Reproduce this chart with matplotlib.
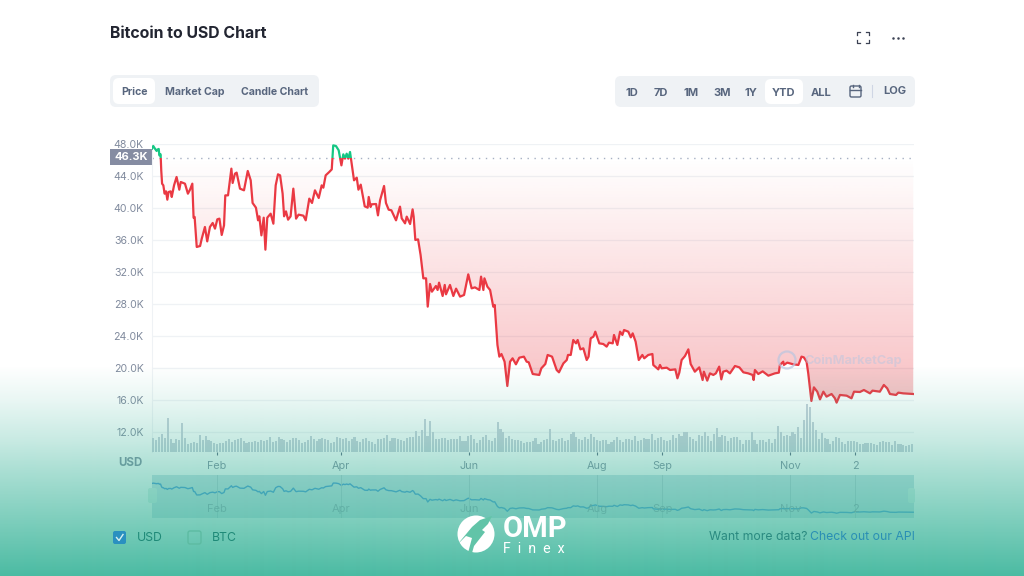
import numpy as np
import matplotlib
matplotlib.use("Agg")
import matplotlib.pyplot as plt
from matplotlib.patches import FancyBboxPatch, Rectangle, Circle, Polygon
from matplotlib.colors import to_rgb

# days since 1 Jan, price in thousand USD
days = [0, 0.6, 1.4, 2.2, 2.5, 3.2, 3.5, 4.1, 4.4, 4.8, 5.4, 6.0, 6.7, 7.3, 7.9, 8.9, 9.4, 10.5, 11.7, 13.0,
        13.7, 15.7, 17.1, 18.1, 19.2, 19.8, 20.3, 21.3, 22.9, 23.7, 25.2, 26.3, 27.6, 28.9, 30.0, 31.1, 32.1, 33.2, 34.3, 34.9,
        36.2, 37.8, 38.4, 39.5, 40.3, 41.9, 43.8, 45.6, 47.0, 47.9, 49.5, 50.5, 51.1, 52.1, 53.2, 54.0, 54.9, 56.5, 57.8, 58.9,
        60.0, 61.0, 62.2, 62.9, 63.8, 64.8, 66.0, 67.3, 68.6, 69.8, 72.1, 73.2, 74.9, 76.2, 77.6, 79.4, 80.8, 81.6, 82.7, 84.4,
        85.6, 86.3, 87.6, 88.9, 90.2, 91.1, 91.9, 92.7, 93.5, 94.3, 95.4, 96.2, 97.5, 98.3, 99.4, 101.3, 102.7, 103.2, 104.1, 104.6,
        106.7, 107.6, 108.6, 110.5, 111.4, 112.7, 114.0, 116.2, 118.1, 118.9, 120.5, 121.3, 122.9, 124.1, 124.6, 125.4, 126.7, 127.9, 129.2, 130.5,
        131.3, 132.4, 133.3, 135.2, 136.0, 136.7, 138.4, 139.4, 140.0, 141.9, 143.5, 144.8, 146.7, 148.6, 150.6, 152.2, 153.8, 155.9, 156.7, 157.8,
        158.3, 159.7, 161.0, 162.5, 163.2, 164.5, 165.4, 166.4, 167.9, 169.2, 170.5, 171.7, 173.3, 174.9, 177.1, 178.4, 179.4, 181.3, 184.4, 185.4,
        187.3, 188.4, 190.5, 192.7, 193.8, 195.9, 197.5, 198.1, 199.4, 200.6, 201.9, 202.7, 204.0, 205.4, 207.0, 207.9, 208.9, 210.2, 211.1, 213.0,
        214.9, 216.5, 217.6, 219.4, 220.0, 221.6, 222.9, 224.0, 224.8, 226.8, 228.0, 228.9, 230.3, 231.8, 233.5, 234.4, 236.3, 238.3, 238.7, 241.1,
        241.9, 242.7, 245.1, 246.7, 249.2, 250.2, 251.1, 252.2, 253.8, 255.4, 256.5, 258.5, 260.6, 262.2, 262.8, 264.4, 265.7, 267.3, 268.5, 270.1,
        271.1, 272.0, 273.6, 275.2, 277.6, 279.7, 281.6, 283.9, 286.0, 286.5, 287.1, 288.7, 290.8, 293.5, 296.6, 298.5, 299.0, 300.6, 300.9, 302.5,
        305.4, 307.8, 309.3, 310.4, 311.7, 312.5, 314.0, 315.2, 316.8, 318.1, 319.7, 321.2, 323.6, 325.2, 326.0, 327.6, 330.8, 333.1, 334.3, 337.1,
        339.0, 341.9, 343.1, 346.6, 348.5, 350.1, 351.4, 354.3, 355.4, 357.7, 362.5]
prices = [47.42, 47.75, 47.42, 47.13, 47.29, 47.38, 46.58, 46.71, 44.71, 43.04, 42.83, 41.79, 42.08, 41.04, 42.0, 42.08, 41.38, 42.83, 43.88, 42.29,
          43.25, 43.04, 41.79, 42.29, 43.04, 38.79, 38.88, 35.13, 35.25, 36.17, 37.63, 35.83, 37.63, 38.13, 37.42, 38.58, 38.67, 36.63, 37.83, 41.58,
          41.58, 44.92, 43.13, 44.29, 44.42, 42.42, 42.21, 44.63, 43.46, 40.63, 40.04, 38.46, 38.96, 36.58, 38.79, 34.79, 38.79, 39.29, 38.04, 42.83,
          44.21, 44.08, 41.79, 38.96, 39.58, 38.54, 38.96, 42.42, 38.67, 39.17, 39.04, 38.46, 41.17, 40.63, 42.21, 41.25, 42.83, 42.54, 44.08, 44.5,
          44.83, 47.83, 47.75, 47.21, 45.33, 46.71, 46.17, 46.79, 46.17, 47.0, 44.92, 43.46, 43.79, 42.29, 42.92, 40.21, 40.04, 41.38, 40.13, 40.46,
          40.5, 39.08, 40.96, 42.75, 40.63, 39.79, 39.71, 38.46, 40.17, 38.71, 38.08, 38.92, 38.0, 39.83, 38.92, 36.0, 36.08, 34.13, 31.21, 31.21,
          27.67, 30.5, 29.54, 30.25, 29.75, 30.67, 29.0, 30.38, 29.21, 30.38, 29.0, 29.92, 28.92, 29.13, 31.71, 29.96, 30.08, 29.75, 31.42, 29.75,
          31.21, 30.17, 29.75, 27.67, 27.88, 22.88, 21.42, 21.75, 20.79, 17.75, 20.79, 21.21, 20.46, 21.29, 21.42, 20.79, 20.71, 19.25, 19.13, 19.96,
          20.5, 21.63, 21.42, 19.75, 19.46, 20.58, 21.0, 21.63, 21.63, 23.5, 23.08, 23.5, 22.33, 22.46, 21.0, 21.42, 23.71, 23.92, 24.54, 23.08,
          23.0, 22.67, 23.17, 23.08, 24.13, 22.88, 24.54, 24.13, 24.75, 24.54, 23.83, 24.33, 23.29, 21.0, 21.63, 21.21, 21.63, 21.75, 20.38, 19.83,
          20.38, 19.96, 20.04, 19.75, 19.83, 18.71, 19.42, 21.0, 21.5, 22.33, 20.5, 19.54, 20.08, 18.5, 19.54, 18.42, 19.33, 19.13, 19.33, 20.17,
          18.58, 19.54, 19.67, 19.33, 20.25, 20.08, 19.46, 19.33, 19.13, 18.5, 19.75, 19.25, 19.58, 19.04, 19.33, 19.42, 20.38, 20.79, 20.38, 20.67,
          20.46, 20.38, 21.42, 21.33, 20.79, 19.33, 15.88, 17.58, 17.04, 16.08, 17.04, 16.42, 16.75, 16.21, 15.67, 16.63, 16.54, 16.21, 17.04, 17.0,
          17.25, 16.83, 17.17, 17.04, 17.88, 17.46, 16.75, 16.63, 16.92, 16.83, 16.75]

volumes = [14, 12, 15, 18, 14, 34, 13, 9, 13, 12, 29, 14, 8, 9, 10, 9, 17, 12, 16, 12, 11, 9, 8, 9, 9, 11, 13, 10, 12, 13, 14, 11, 9,
           10, 10, 11, 10, 12, 11, 12, 15, 10, 11, 15, 13, 12, 10, 12, 14, 14, 12, 9, 10, 12, 16, 13, 11, 13, 14, 13, 12, 9, 10, 15, 14, 13,
           14, 11, 13, 15, 11, 10, 13, 14, 11, 10, 8, 13, 13, 14, 17, 11, 14, 14, 13, 12, 11, 14, 15, 15, 21, 16, 22, 33, 16, 31, 20, 13,
           13, 14, 14, 12, 13, 13, 13, 16, 11, 11, 16, 17, 13, 9, 12, 15, 17, 12, 11, 14, 30, 23, 20, 14, 16, 13, 12, 12, 11, 9, 10, 10, 11,
           14, 8, 10, 12, 13, 23, 12, 11, 13, 14, 11, 12, 18, 20, 15, 13, 12, 15, 13, 18, 15, 12, 11, 12, 12, 8, 10, 12, 15, 12, 10, 13, 13,
           12, 16, 11, 12, 14, 13, 13, 18, 12, 14, 15, 12, 11, 12, 17, 14, 18, 16, 20, 20, 15, 13, 11, 17, 16, 20, 16, 11, 18, 24, 15,
           17, 16, 11, 14, 15, 15, 12, 8, 12, 12, 20, 12, 8, 12, 12, 10, 13, 9, 13, 26, 20, 16, 17, 16, 20, 18, 25, 14, 32, 48, 45, 30, 22,
           13, 19, 14, 13, 8, 11, 15, 14, 10, 8, 11, 11, 11, 10, 8, 8, 9, 9, 9, 8, 7, 10, 11, 10, 10, 7, 11, 8, 8, 7, 6, 7, 8]

price_ticks = [48, 44, 40, 36, 32, 28, 24, 20, 16, 12]
price_labels = ["48.0K", "44.0K", "40.0K", "36.0K", "32.0K", "28.0K", "24.0K", "20.0K", "16.0K", "12.0K"]
date_ticks = [31, 90, 151, 212, 243, 304, 335]
date_labels = ["Feb", "Apr", "Jun", "Aug", "Sep", "Nov", "2"]
base_price = 46.3

range_labels = ["1D", "7D", "1M", "3M", "1Y", "YTD", "ALL"]
range_x = [632, 661, 691, 722, 751, 784, 821]

W, H = 1024, 576
plt.rcParams["font.family"] = ["Inter", "DejaVu Sans"]
RED = "#ea3943"
GREEN = "#16c784"
GREY = "#808a9d"
SLATE = "#58667e"
DARK = "#222531"
PILL = "#eff2f5"
X_END = 362.86


def px_axes(left, top, right, bottom, z=1):
    a = fig.add_axes([left / W, 1 - bottom / H, (right - left) / W, (bottom - top) / H], zorder=z)
    a.patch.set_visible(False)
    return a


def pill(a, x0, y0, x1, y1, color, r=6, edge="none"):
    a.add_patch(FancyBboxPatch((x0 + r, y0 + r), x1 - x0 - 2 * r, y1 - y0 - 2 * r,
                               boxstyle=f"round,pad={r},rounding_size={r}", fc=color, ec=edge))


fig = plt.figure(figsize=(10.24, 5.76), dpi=100, facecolor="white")

# page furniture in pixel coordinates
ui = px_axes(0, 0, W, H, 0)
ui.set_xlim(0, W)
ui.set_ylim(H, 0)
ui.axis("off")
ui.text(110, 33, "Bitcoin to USD Chart", fontsize=11.4, fontweight="bold", color=DARK, va="center")
pill(ui, 110, 75, 319, 107, PILL)
pill(ui, 113, 78, 155, 104, "white")
for x, s in zip([134, 195, 275], ["Price", "Market Cap", "Candle Chart"]):
    ui.text(x, 92, s, fontsize=7.6, fontweight="bold", color=SLATE, ha="center", va="center")
pill(ui, 615, 76, 915, 107, PILL)
pill(ui, 765, 79, 803, 104, "white")
for x, s in zip(range_x, range_labels):
    ui.text(x, 92.5, s, fontsize=8, fontweight="bold", color=SLATE, ha="center", va="center")
ui.text(895, 91.5, "LOG", fontsize=8, fontweight="bold", color=SLATE, ha="center", va="center")
ui.plot([872, 872], [85, 97], color="#cfd6e4", lw=0.8)
# calendar icon
ui.add_patch(FancyBboxPatch((851, 87), 9, 9, boxstyle="round,pad=1,rounding_size=1.5", fc="none", ec=SLATE, lw=1))
ui.plot([850, 861], [90, 90], color=SLATE, lw=1)
ui.plot([852.5, 852.5], [84.5, 87], color=SLATE, lw=1)
ui.plot([858.5, 858.5], [84.5, 87], color=SLATE, lw=1)
# fullscreen and menu icons
for cx, cy, sx, sy in [(857, 32, 1, 1), (869, 32, -1, 1), (857, 43, 1, -1), (869, 43, -1, -1)]:
    ui.plot([cx + 3 * sx, cx, cx], [cy, cy, cy + 3 * sy], color="#3c4254", lw=0.9)
ui.plot([893, 898, 903], [37.5, 37.5, 37.5], ls="none", marker="o", ms=1.8, mew=0, color="#3c4254")
# current price tag
ui.add_patch(Rectangle((110, 148.5), 42, 16, fc="#858ca2", ec="none"))
ui.text(131, 156.5, "46.3K", fontsize=8, fontweight="bold", color="white", ha="center", va="center")
ui.text(130, 463.5, "USD", fontsize=8.3, fontweight="bold", color=GREY, ha="center", va="center")

# price panel
ax = px_axes(152, 144, 914, 452)
ax.set_xlim(0, X_END)
ax.set_ylim(9.5, 48)
ax.set_yticks(price_ticks, price_labels)
ax.set_xticks(date_ticks, date_labels)
ax.tick_params(axis="y", length=0, pad=6, labelsize=7.6, labelcolor=GREY)
ax.tick_params(axis="x", length=2.5, width=0.8, color=SLATE, pad=4, labelsize=7.8, labelcolor=GREY)
ax.grid(axis="y", color="#eff2f5", lw=0.9)
ax.set_axisbelow(True)
for side in ["top", "right", "bottom"]:
    ax.spines[side].set_visible(False)
ax.spines["left"].set_color("#eff2f5")
ax.axhline(base_price, color="#a6b0c3", lw=1, ls=(0, (1, 4)))

# red fade between the line and the opening price
poly = ax.fill_between(days, prices, base_price, fc="none", ec="none")
grad = np.zeros((256, 1, 4))
grad[..., :3] = to_rgb(RED)
grad[:, 0, 3] = np.clip((base_price - np.linspace(48, 9.5, 256)) / (base_price - 16) * 0.32, 0, 1)
im = ax.imshow(grad, extent=[0, X_END, 9.5, 48], aspect="auto", origin="upper", zorder=1.5)
im.set_clip_path(poly.get_paths()[0], transform=ax.transData)
ax.set_xlim(0, X_END)
ax.set_ylim(9.5, 48)

line_red, = ax.plot(days, prices, color=RED, lw=1.6, zorder=3)
line_red.set_clip_path(Rectangle((0, 9.5), X_END, base_price - 9.5, transform=ax.transData))
line_green, = ax.plot(days, prices, color=GREEN, lw=1.6, zorder=3)
line_green.set_clip_path(Rectangle((0, base_price), X_END, 48 - base_price + 1, transform=ax.transData))

# watermark
ax.text(0.92, 0.295, "CoinMarketCap", transform=ax.transAxes, fontsize=9.2, fontweight="bold",
        color="#b9c6e0", alpha=0.5, ha="center", va="center", zorder=4)

# volume bars, one unit is one pixel tall
vol = px_axes(152, 144, 914, 452)
vol.set_xlim(0, X_END)
vol.set_ylim(0, 308)
vol.axis("off")
vol_x = np.linspace(0.5, 362, len(volumes))
vol.bar(vol_x, volumes, width=1.0, color="#c7d0da")

ring_ax = px_axes(0, 0, W, H, 2)
ring_ax.set_xlim(0, W)
ring_ax.set_ylim(H, 0)
ring_ax.axis("off")
ring_ax.add_patch(Circle((787, 360), 8.5, fc="none", ec="#b9c6e0", lw=1.6, alpha=0.7))

# range navigator
nav = px_axes(152, 475, 914, 518)
nav.set_xlim(0, X_END)
nav.set_ylim(10.6, 56.4)
nav.set_facecolor("#c8e0e6")
nav.patch.set_visible(True)
nav.set_xticks([])
nav.set_yticks([])
for s in nav.spines.values():
    s.set_visible(False)
nav.plot(days, prices, color="#3f8fd6", lw=1)
for d, s in zip(date_ticks, date_labels):
    nav.axvline(d, color="#a9c4cc", lw=0.6)
    nav.text(d, 20.5, s, fontsize=8, color=GREY, alpha=0.75, ha="center", va="center")
pill(ring_ax, 148, 488, 157, 503, "#d9efe9", 2)
pill(ring_ax, 908, 488, 915, 503, "#d9efe9", 2)

# teal wash over the lower part of the picture
wash = px_axes(0, 0, W, H, 5)
rows = np.arange(H)
shade = np.zeros((H, 1, 4))
shade[..., :3] = np.array([70, 185, 160]) / 255
shade[:, 0, 3] = np.interp(rows, [365, 400, 440, 470, 540, 576], [0, 0.12, 0.3, 0.46, 0.8, 0.98])
wash.imshow(shade, extent=[0, W, H, 0], aspect="auto", interpolation="bilinear")
wash.set_xlim(0, W)
wash.set_ylim(H, 0)
wash.axis("off")

# logo and footer sit on top of the wash
logo = px_axes(0, 0, W, H, 6)
logo.set_xlim(0, W)
logo.set_ylim(H, 0)
logo.axis("off")
pill(logo, 113, 531, 126, 544, "#2a90c0", 2)
logo.plot([116.5, 119, 123], [537.5, 540.5, 534.5], color="#d8f0f0", lw=1)
pill(logo, 188, 531, 201, 544, "none", 2, edge="#5dbba2")
logo.text(137, 538, "USD", fontsize=8.8, color="#1f8a78", va="center")
logo.text(212, 538, "BTC", fontsize=8.8, color="#1f8a78", va="center")
logo.text(709, 537, "Want more data?", fontsize=8.8, color="#2a8a80", va="center")
logo.text(810, 537, "Check out our API", fontsize=8.8, color="#2a8fb4", va="center")

logo.add_patch(Circle((476, 534), 18.5, fc="white", ec="none"))
logo.add_patch(Polygon([[457, 545], [472, 527], [480, 520], [492, 516], [488, 524], [482, 530],
                        [485, 532], [474, 546], [472, 553], [468, 553], [472, 538], [466, 536]],
                       fc="#62c4a8", ec="none"))
logo.text(503, 529, "OMP", fontsize=21, fontweight="bold", color="white", va="center", family="Roboto")
logo.text(503, 549, "F  i  n  e  x", fontsize=10.2, color="white", va="center", family="Roboto")

fig.savefig("out.png", dpi=100)
